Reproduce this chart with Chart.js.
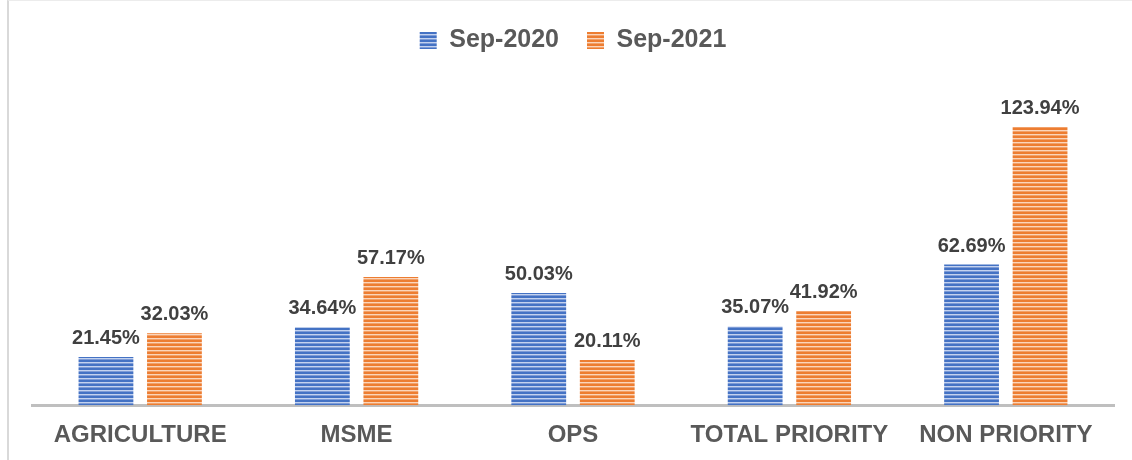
<!DOCTYPE html>
<html>
<head>
<meta charset="utf-8">
<script src="https://cdn.jsdelivr.net/npm/chart.js@4.4.0/dist/chart.umd.min.js"></script>
<style>
    html, body { margin: 0; padding: 0; background: #fff; }
    #wrap { position: relative; width: 1132px; height: 460px; }
    #frame { position: absolute; left: 7px; top: 0; right: 0; bottom: 0; border-left: 2px solid #d9d9d9; border-top: 1px solid #ececec; pointer-events: none; }
</style>
</head>
<body>
<div id="wrap">
    <canvas id="creditChart" width="1132" height="460"></canvas>
    <div id="frame"></div>
</div>
<script>
// ========== data ==========
const categories = ['AGRICULTURE', 'MSME', 'OPS', 'TOTAL PRIORITY', 'NON PRIORITY'];
const seriesNames = ['Sep-2020', 'Sep-2021'];
const sep2020 = [21.45, 34.64, 50.03, 35.07, 62.69];
const sep2021 = [32.03, 57.17, 20.11, 41.92, 123.94];

const FONT = "'Liberation Sans', Arial, sans-serif";

// horizontal stripe fill, like the office "narrow horizontal" pattern
function stripes(ctx, base, mid, light) {
    const p = document.createElement('canvas');
    p.width = 4;
    p.height = 4;
    const c = p.getContext('2d');
    c.fillStyle = base;
    c.fillRect(0, 0, 4, 4);
    c.fillStyle = light;
    c.fillRect(0, 2, 4, 1);
    c.fillStyle = mid;
    c.fillRect(0, 3, 4, 1);
    return ctx.createPattern(p, 'repeat');
}

const canvas = document.getElementById('creditChart');
const ctx = canvas.getContext('2d');

const bluePattern = stripes(ctx, '#4472c4', '#7d9bd6', '#c3d2ef');
const orangePattern = stripes(ctx, '#ed7d31', '#f2a169', '#fbd5bb');

// value labels above each bar
const valueLabels = {
    id: 'valueLabels',
    afterDatasetsDraw(chart) {
        const c = chart.ctx;
        c.save();
        c.font = 'bold 20px ' + FONT;
        c.fillStyle = '#404040';
        c.textAlign = 'center';
        c.textBaseline = 'alphabetic';
        chart.data.datasets.forEach((ds, i) => {
            chart.getDatasetMeta(i).data.forEach((bar, j) => {
                c.fillText(ds.data[j].toFixed(2) + '%', bar.x, bar.y - 13);
            });
        });
        c.restore();
    }
};

// fixed room under the legend
const legendRoom = {
    id: 'legendRoom',
    beforeInit(chart) {
        const fit = chart.legend.fit;
        chart.legend.fit = function() {
            fit.call(this);
            this.height = 91;
        };
    }
};

new Chart(ctx, {
    type: 'bar',
    data: {
        labels: categories,
        datasets: [{
            label: seriesNames[0],
            data: sep2020,
            backgroundColor: bluePattern,
            borderWidth: 0
        }, {
            label: seriesNames[1],
            data: sep2021,
            backgroundColor: orangePattern,
            borderWidth: 0
        }]
    },
    options: {
        responsive: false,
        animation: false,
        categoryPercentage: 0.633,
        barPercentage: 0.8,
        layout: { padding: { left: 32, right: 18, top: 0, bottom: -6 } },
        scales: {
            x: {
                grid: { display: false, drawTicks: false },
                border: { display: true, color: '#bfbfbf', width: 3 },
                ticks: {
                    color: '#595959',
                    font: { family: FONT, size: 24, weight: 'bold' },
                    padding: 16,
                    maxRotation: 0,
                    autoSkip: false
                }
            },
            y: {
                display: false,
                min: 0,
                max: 140
            }
        },
        plugins: {
            legend: {
                position: 'top',
                labels: {
                    color: '#595959',
                    font: { family: FONT, size: 25, weight: 'bold' },
                    boxWidth: 17,
                    boxHeight: 17,
                    padding: 28
                }
            },
            tooltip: { enabled: false }
        }
    },
    plugins: [valueLabels, legendRoom]
});
</script>
</body>
</html>
